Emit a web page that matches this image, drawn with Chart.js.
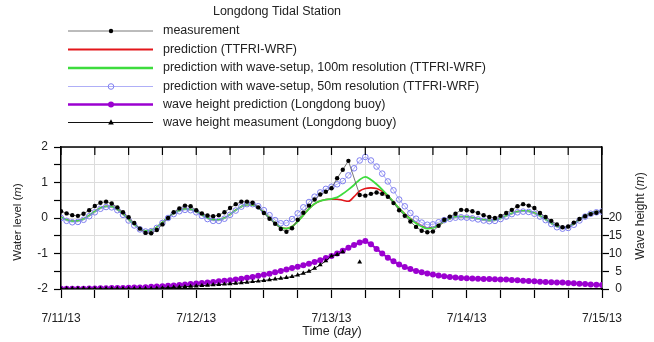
<!DOCTYPE html>
<html>
<head>
<meta charset="utf-8">
<script src="https://cdn.jsdelivr.net/npm/chart.js@4.4.1/dist/chart.umd.min.js"></script>
<style>
html, body { margin: 0; padding: 0; background: #fff; }
</style>
</head>
<body>
<canvas id="tide" width="654" height="342"></canvas>
<script>
// hours since 7/11/13 00:00
const hours = Array.from({length: 97}, (_, i) => i);
const dayLabels = ['7/11/13', '7/12/13', '7/13/13', '7/14/13', '7/15/13'];

// water level (m)
const measured = [
    0.19, 0.13, 0.08, 0.06, 0.12, 0.22, 0.34, 0.43, 0.46, 0.41, 0.30, 0.16,
    0.02, -0.14, -0.30, -0.42, -0.43, -0.34, -0.18, 0.00, 0.16, 0.27, 0.35, 0.33,
    0.22, 0.13, 0.07, 0.05, 0.08, 0.16, 0.28, 0.39, 0.46, 0.46, 0.43, 0.30,
    0.14, -0.02, -0.16, -0.31, -0.39, -0.29, -0.05, 0.15, 0.35, 0.52, 0.66, 0.74,
    0.84, 1.12, 1.36, 1.61, null, 0.65, 0.63, 0.68, 0.72, 0.68, 0.60, 0.42,
    0.22, 0.06, -0.10, -0.25, -0.36, -0.40, -0.38, -0.22, -0.05, 0.04, 0.12, 0.23,
    0.22, 0.19, 0.14, 0.08, 0.03, 0.00, 0.06, 0.14, 0.23, 0.33, 0.39, 0.35,
    0.28, 0.14, 0.03, -0.08, -0.18, -0.26, -0.24, -0.13, -0.03, 0.05, 0.11, 0.15,
    0.19
];
const predWrf = [
    0.02, -0.05, -0.09, -0.08, -0.03, 0.07, 0.18, 0.28, 0.33, 0.32, 0.24, 0.11,
    -0.04, -0.19, -0.30, -0.36, -0.35, -0.26, -0.12, 0.02, 0.13, 0.21, 0.25, 0.24,
    0.18, 0.09, 0.00, -0.05, -0.05, 0.00, 0.10, 0.22, 0.32, 0.38, 0.37, 0.29,
    0.16, 0.00, -0.15, -0.26, -0.30, -0.24, -0.10, 0.08, 0.26, 0.40, 0.48, 0.52,
    0.53, 0.53, 0.50, 0.47, 0.60, 0.76, 0.83, 0.85, 0.83, 0.75, 0.62, 0.45,
    0.27, 0.12, -0.02, -0.13, -0.22, -0.28, -0.27, -0.20, -0.10, -0.02, 0.03, 0.04,
    0.03, 0.01, -0.02, -0.05, -0.07, -0.06, -0.01, 0.06, 0.13, 0.18, 0.20, 0.19,
    0.14, 0.06, -0.04, -0.15, -0.24, -0.28, -0.26, -0.17, -0.05, 0.06, 0.14, 0.18,
    0.20
];
const pred100m = [
    0.02, -0.05, -0.09, -0.08, -0.03, 0.07, 0.18, 0.28, 0.33, 0.32, 0.24, 0.11,
    -0.04, -0.19, -0.30, -0.36, -0.35, -0.26, -0.12, 0.02, 0.13, 0.21, 0.25, 0.24,
    0.18, 0.09, 0.00, -0.05, -0.05, 0.00, 0.10, 0.22, 0.32, 0.38, 0.37, 0.29,
    0.16, 0.00, -0.15, -0.26, -0.30, -0.24, -0.10, 0.08, 0.26, 0.40, 0.48, 0.52,
    0.54, 0.58, 0.68, 0.80, 0.93, 1.08, 1.16, 1.08, 0.95, 0.80, 0.63, 0.45,
    0.27, 0.11, -0.03, -0.15, -0.24, -0.30, -0.28, -0.20, -0.10, -0.02, 0.03, 0.04,
    0.03, 0.01, -0.02, -0.05, -0.07, -0.06, -0.01, 0.06, 0.13, 0.18, 0.20, 0.19,
    0.14, 0.06, -0.04, -0.15, -0.24, -0.28, -0.26, -0.17, -0.05, 0.06, 0.14, 0.18,
    0.20
];
const pred50m = [
    0.00, -0.08, -0.12, -0.11, -0.05, 0.05, 0.16, 0.26, 0.31, 0.30, 0.22, 0.09,
    -0.07, -0.21, -0.32, -0.38, -0.37, -0.28, -0.14, 0.00, 0.11, 0.19, 0.23, 0.22,
    0.16, 0.06, -0.03, -0.08, -0.08, -0.02, 0.09, 0.21, 0.32, 0.39, 0.39, 0.33,
    0.22, 0.08, -0.06, -0.15, -0.14, -0.03, 0.13, 0.30, 0.45, 0.60, 0.72, 0.82,
    0.88, 0.95, 1.04, 1.20, 1.40, 1.62, 1.72, 1.62, 1.45, 1.25, 1.03, 0.78,
    0.52, 0.33, 0.14, -0.02, -0.13, -0.19, -0.18, -0.12, -0.06, -0.02, 0.01, 0.02,
    0.01, -0.01, -0.04, -0.07, -0.09, -0.08, -0.03, 0.04, 0.11, 0.16, 0.18, 0.17,
    0.12, 0.04, -0.06, -0.17, -0.26, -0.30, -0.28, -0.19, -0.07, 0.04, 0.12, 0.16,
    0.18
];

// wave height (m), right axis
const wavePred = [
    0.1, 0.1, 0.1, 0.1, 0.1, 0.15, 0.15, 0.2, 0.2, 0.25, 0.3, 0.3,
    0.35, 0.4, 0.45, 0.5, 0.6, 0.7, 0.8, 0.9, 1.0, 1.1, 1.25, 1.4,
    1.55, 1.7, 1.85, 2.0, 2.15, 2.3, 2.5, 2.7, 2.9, 3.15, 3.4, 3.7,
    4.0, 4.3, 4.7, 5.1, 5.5, 5.9, 6.3, 6.7, 7.1, 7.6, 8.1, 8.7,
    9.3, 10.0, 10.8, 11.6, 12.4, 13.1, 13.5, 12.6, 11.3, 10.0, 8.8, 7.8,
    6.9, 6.2, 5.6, 5.1, 4.7, 4.4, 4.1, 3.8, 3.6, 3.4, 3.25, 3.1,
    3.0, 2.95, 2.9, 2.85, 2.8, 2.75, 2.7, 2.65, 2.55, 2.45, 2.35, 2.25,
    2.15, 2.05, 2.0, 1.9, 1.85, 1.8, 1.7, 1.6, 1.5, 1.4, 1.3, 1.2,
    1.1
];
const waveMeas = [
    0.1, 0.1, 0.1, 0.1, 0.1, 0.1, 0.1, 0.1, 0.1, 0.1, 0.1, 0.1,
    0.1, 0.1, 0.1, 0.1, 0.1, 0.2, 0.3, 0.35, 0.45, 0.55, 0.65, 0.75,
    0.85, 0.95, 1.05, 1.15, 1.25, 1.35, 1.45, 1.6, 1.75, 1.9, 2.05, 2.2,
    2.4, 2.6, 2.8, 3.0, 3.2, 3.5, 3.9, 4.4, 5.0, 5.8, 6.8, 7.9,
    9.3, 9.7, 10.5, null, null, 7.6, null, null, null, null, null, null,
    null, null, null, null, null, null, null, null, null, null, null, null,
    null, null, null, null, null, null, null, null, null, null, null, null,
    null, null, null, null, null, null, null, null, null, null, null, null,
    null
];

function pairs(vals) {
    return vals.map((v, i) => ({x: hours[i], y: v}));
}

Chart.defaults.font.family = "'Liberation Sans', Arial, sans-serif";
Chart.defaults.font.size = 12;
Chart.defaults.color = '#222';

const legendRows = [31, 49.5, 68, 86.5, 104.5, 122.5];

const framePlugin = {
    id: 'frame',
    afterDraw(chart) {
        const ctx = chart.ctx;
        const a = chart.chartArea;
        const xs = chart.scales.x;
        ctx.save();
        // top border and inner ticks
        ctx.strokeStyle = '#000';
        ctx.lineWidth = 1.5;
        ctx.beginPath();
        ctx.moveTo(a.left, a.top);
        ctx.lineTo(a.right, a.top);
        ctx.stroke();
        ctx.lineWidth = 1.2;
        xs.ticks.forEach(t => {
            const px = xs.getPixelForValue(t.value);
            ctx.beginPath();
            ctx.moveTo(px, a.top);
            ctx.lineTo(px, a.top + 8);
            ctx.stroke();
        });

        // title + legend
        ctx.fillStyle = '#222';
        ctx.font = "12.5px 'Liberation Sans', Arial, sans-serif";
        ctx.textAlign = 'center';
        ctx.textBaseline = 'middle';
        ctx.fillText('Longdong Tidal Station', 277, 12);
        chart.data.datasets.forEach((ds, i) => {
            const y = legendRows[i];
            ctx.strokeStyle = ds.borderColor;
            ctx.lineWidth = ds.legendWidth;
            ctx.beginPath();
            ctx.moveTo(68, y);
            ctx.lineTo(153, y);
            ctx.stroke();
            drawMarker(ctx, ds, 111, y);
            ctx.fillStyle = '#222';
            ctx.textAlign = 'left';
            ctx.fillText(ds.label, 163, y);
        });

        // axis titles with italic units
        drawMixed(ctx, ['Time (', 'day', ')'], 332, 332, 0, 12.5);
        drawMixed(ctx, ['Water level (', 'm', ')'], 18, 222, -Math.PI / 2, 11.5);
        drawMixed(ctx, ['Wave height (', 'm', ')'], 641, 216, -Math.PI / 2, 12);
        ctx.restore();
    }
};

function drawMarker(ctx, ds, x, y) {
    const r = ds.pointRadius;
    if (!r) return;
    ctx.beginPath();
    if (ds.pointStyle === 'triangle') {
        ctx.moveTo(x, y - r * 1.2);
        ctx.lineTo(x + r, y + r * 0.7);
        ctx.lineTo(x - r, y + r * 0.7);
        ctx.closePath();
    } else {
        ctx.arc(x, y, r, 0, Math.PI * 2);
    }
    ctx.fillStyle = ds.pointBackgroundColor;
    ctx.fill();
    if (ds.pointBorderWidth) {
        ctx.strokeStyle = ds.pointBorderColor;
        ctx.lineWidth = ds.pointBorderWidth;
        ctx.stroke();
    }
}

function drawMixed(ctx, parts, x, y, rot, size) {
    const fam = "'Liberation Sans', Arial, sans-serif";
    const fonts = [size + 'px ' + fam, 'italic ' + size + 'px ' + fam, size + 'px ' + fam];
    let w = 0;
    const widths = parts.map((p, i) => {
        ctx.font = fonts[i];
        const m = ctx.measureText(p).width;
        w += m;
        return m;
    });
    ctx.save();
    ctx.translate(x, y);
    ctx.rotate(rot);
    ctx.fillStyle = '#222';
    ctx.textAlign = 'left';
    ctx.textBaseline = 'middle';
    let cx = -w / 2;
    parts.forEach((p, i) => {
        ctx.font = fonts[i];
        ctx.fillText(p, cx, 0);
        cx += widths[i];
    });
    ctx.restore();
}

new Chart(document.getElementById('tide').getContext('2d'), {
    type: 'line',
    data: {
        datasets: [
            {
                label: 'measurement', data: pairs(measured), yAxisID: 'y',
                borderColor: '#555', borderWidth: 0.8, legendWidth: 0.8,
                pointRadius: 2.2, pointBackgroundColor: '#000', pointBorderColor: '#000', pointBorderWidth: 0,
                spanGaps: true, order: 0
            },
            {
                label: 'prediction (TTFRI-WRF)', data: pairs(predWrf), yAxisID: 'y',
                borderColor: '#e3161b', borderWidth: 1.6, legendWidth: 2,
                pointRadius: 0, cubicInterpolationMode: 'monotone', order: 4
            },
            {
                label: 'prediction with wave-setup, 100m resolution (TTFRI-WRF)', data: pairs(pred100m), yAxisID: 'y',
                borderColor: '#3ddc3d', borderWidth: 1.8, legendWidth: 2.5,
                pointRadius: 0, cubicInterpolationMode: 'monotone', order: 3
            },
            {
                label: 'prediction with wave-setup, 50m resolution (TTFRI-WRF)', data: pairs(pred50m), yAxisID: 'y',
                borderColor: '#9a9af5', borderWidth: 0.8, legendWidth: 0.8,
                pointRadius: 2.8, pointBackgroundColor: 'rgba(255,255,255,0)', pointBorderColor: '#7f7ff0', pointBorderWidth: 1,
                order: 2
            },
            {
                label: 'wave height prediction (Longdong buoy)', data: pairs(wavePred), yAxisID: 'y2',
                borderColor: '#9b00d0', borderWidth: 2, legendWidth: 2.5,
                pointRadius: 3, pointBackgroundColor: '#9b00d0', pointBorderColor: '#9b00d0', pointBorderWidth: 0,
                order: 5
            },
            {
                label: 'wave height measument (Longdong buoy)', data: pairs(waveMeas), yAxisID: 'y2',
                borderColor: '#111', borderWidth: 1, legendWidth: 1.2,
                pointStyle: 'triangle', pointRadius: 2.8, pointBackgroundColor: '#000', pointBorderColor: '#000', pointBorderWidth: 0,
                spanGaps: false, order: 1
            }
        ]
    },
    options: {
        responsive: false,
        animation: false,
        devicePixelRatio: 1,
        layout: {padding: {top: 147, right: 32, bottom: 0, left: 0}},
        plugins: {legend: {display: false}, title: {display: false}, tooltip: {enabled: false}},
        scales: {
            x: {
                type: 'linear', position: 'bottom', min: 0, max: 96,
                ticks: {
                    stepSize: 6, autoSkip: false, maxRotation: 0, padding: 13,
                    callback: v => (v % 24 === 0 ? dayLabels[v / 24] : '')
                },
                grid: {color: '#dcdcdc', tickColor: '#000', tickLength: 9, lineWidth: 1, tickWidth: 1.2},
                border: {color: '#000', width: 1.5},
                afterFit: s => { s.height = 53; }
            },
            y: {
                position: 'left', min: -2, max: 2,
                ticks: {stepSize: 0.5, padding: 6, callback: v => (Number.isInteger(v) ? v : '')},
                grid: {color: '#dcdcdc', tickColor: '#000', tickLength: 7, tickWidth: 1.2},
                border: {color: '#000', width: 1.5},
                afterFit: s => { s.width = 61; }
            },
            y2: {
                position: 'right', min: 0, max: 40,
                ticks: {stepSize: 5, crossAlign: 'far', padding: 3},
                grid: {drawOnChartArea: false, tickColor: '#000', tickLength: 7, tickWidth: 1.2},
                border: {color: '#000', width: 1.5},
                afterBuildTicks: s => { s.ticks = s.ticks.filter(t => t.value <= 20); },
                afterFit: s => { s.width = 20; }
            }
        }
    },
    plugins: [framePlugin]
});
</script>
</body>
</html>
